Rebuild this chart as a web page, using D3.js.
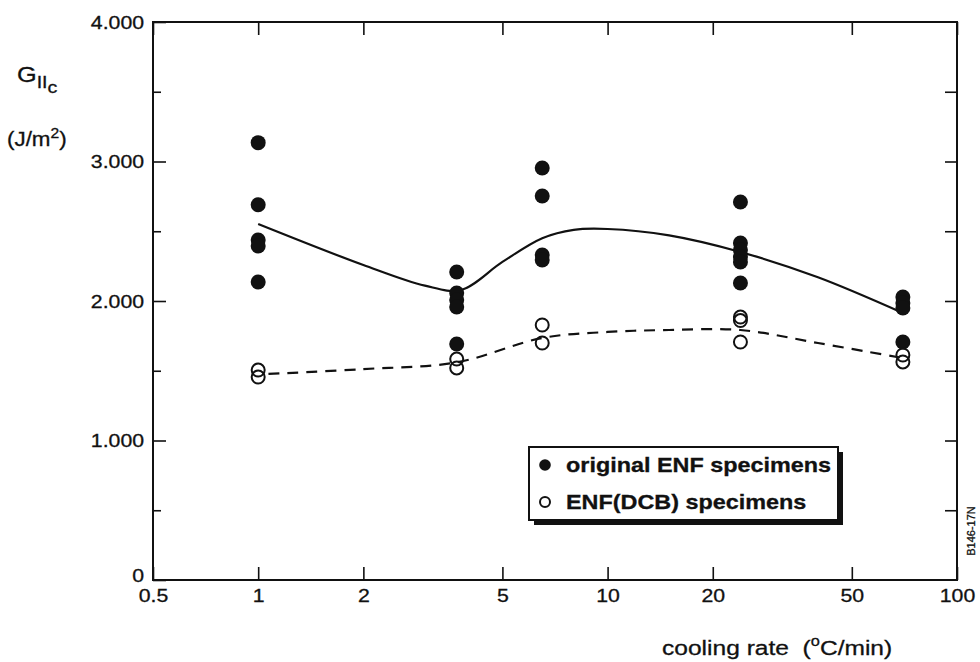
<!DOCTYPE html>
<html>
<head>
<meta charset="utf-8">
<script src="https://cdn.jsdelivr.net/npm/d3@7"></script>
<style>
  body { margin: 0; background: #fff; }
  text { font-family: "Liberation Sans", Arial, Helvetica, sans-serif; fill: #111; stroke: #111; stroke-width: 0.3px; }
</style>
</head>
<body>
<script>
// cooling rate (°C/min) vs GIIc (J/m^2)
var xTicks = [0.5, 1, 2, 5, 10, 20, 50, 100];
var yTicks = [0, 1000, 2000, 3000, 4000];
var yMinor = [500, 1500, 2500, 3500];
var yRightTicks = [500, 1000, 1500, 2000, 2500, 3000, 3500];

// filled circles: original ENF specimens
var originalENF = [
  [1, 3135], [1, 2690], [1, 2437], [1, 2394], [1, 2136],
  [3.7, 2208], [3.7, 2057], [3.7, 2007], [3.7, 1957], [3.7, 1692],
  [6.5, 2953], [6.5, 2753], [6.5, 2330], [6.5, 2294],
  [24, 2710], [24, 2416], [24, 2366], [24, 2315], [24, 2280], [24, 2129],
  [70, 2029], [70, 1986], [70, 1950], [70, 1706]
];
// open circles: ENF(DCB) specimens
var enfDCB = [
  [1, 1505], [1, 1455],
  [3.7, 1584], [3.7, 1520],
  [6.5, 1828], [6.5, 1699],
  [24, 1885], [24, 1860], [24, 1706],
  [70, 1613], [70, 1563]
];
// hand-drawn trend curves
var originalFit = [
  [1, 2552], [2, 2258], [3, 2110], [3.8, 2079], [5, 2280], [6.5, 2450],
  [8, 2510], [10, 2516], [15, 2470], [24, 2351], [40, 2170], [70, 1914]
];
var dcbFit = [
  [1.07, 1477], [2, 1512], [3.7, 1560], [6.5, 1735], [10, 1778],
  [15, 1792], [24, 1792], [40, 1699], [70, 1591]
];

var W = 980, H = 662;
var pLeft = 153, pRight = 957, pTop = 22, pBottom = 580;

var svg = d3.select("body").append("svg")
  .attr("width", W)
  .attr("height", H);

var x = d3.scaleLog().domain([0.5, 100]).range([pLeft, pRight]);
var y = d3.scaleLinear().domain([0, 4000]).range([pBottom, pTop]);

var fmt = d3.formatLocale({decimal: ",", thousands: ".", grouping: [3], currency: ["", ""]}).format(",");
var sx = 1.12;

// bottom axis with inward ticks
var gx = svg.append("g")
  .attr("transform", "translate(0," + pBottom + ")")
  .call(d3.axisBottom(x).tickValues(xTicks).tickFormat(function (d) { return d; })
    .tickSizeInner(-13).tickSizeOuter(0).tickPadding(9));
gx.selectAll("text").attr("font-size", 19).attr("transform", "scale(" + sx + ",1)");

// top axis, ticks only
svg.append("g")
  .attr("transform", "translate(0," + pTop + ")")
  .call(d3.axisTop(x).tickValues(xTicks).tickFormat("").tickSizeInner(-13).tickSizeOuter(0));

// left axis
var gy = svg.append("g")
  .attr("transform", "translate(" + pLeft + ",0)")
  .call(d3.axisLeft(y).tickValues(yTicks).tickFormat(fmt)
    .tickSizeInner(-13).tickSizeOuter(0).tickPadding(8));
gy.selectAll("text").attr("font-size", 19).attr("transform", "scale(" + sx + ",1)");
gy.selectAll("text").filter(function (d) { return d === 0; }).attr("dy", "0.1em");
svg.append("g")
  .attr("transform", "translate(" + pLeft + ",0)")
  .call(d3.axisLeft(y).tickValues(yMinor).tickFormat("").tickSizeInner(-8).tickSizeOuter(0));

// right axis, ticks only
svg.append("g")
  .attr("transform", "translate(" + pRight + ",0)")
  .call(d3.axisRight(y).tickValues(yRightTicks).tickFormat("").tickSizeInner(-12).tickSizeOuter(0));

svg.selectAll(".domain").remove();
svg.selectAll(".tick line").attr("stroke", "#111").attr("stroke-width", 1.6);

// frame
svg.append("rect")
  .attr("x", pLeft).attr("y", pTop)
  .attr("width", pRight - pLeft).attr("height", pBottom - pTop)
  .attr("fill", "none").attr("stroke", "#111").attr("stroke-width", 2);

// curves
var line = d3.line()
  .x(function (d) { return x(d[0]); })
  .y(function (d) { return y(d[1]); })
  .curve(d3.curveCatmullRom.alpha(0.5));

svg.append("path").datum(originalFit)
  .attr("d", line).attr("fill", "none")
  .attr("stroke", "#111").attr("stroke-width", 2.2);

svg.append("path").datum(dcbFit)
  .attr("d", line).attr("fill", "none")
  .attr("stroke", "#111").attr("stroke-width", 2.2)
  .attr("stroke-dasharray", "11,8");

// points
svg.append("g").selectAll("circle")
  .data(originalENF)
  .enter().append("circle")
  .attr("cx", function (d) { return x(d[0]); })
  .attr("cy", function (d) { return y(d[1]); })
  .attr("r", 7.5)
  .attr("fill", "#111");

svg.append("g").selectAll("circle")
  .data(enfDCB)
  .enter().append("circle")
  .attr("cx", function (d) { return x(d[0]); })
  .attr("cy", function (d) { return y(d[1]); })
  .attr("r", 6.5)
  .attr("fill", "none")
  .attr("stroke", "#111")
  .attr("stroke-width", 2);

// legend
var lg = svg.append("g").attr("transform", "translate(529,447)");
lg.append("rect").attr("x", 5).attr("y", 5).attr("width", 309).attr("height", 73).attr("fill", "#111");
lg.append("rect").attr("x", 0).attr("y", 0).attr("width", 309).attr("height", 73)
  .attr("fill", "#fff").attr("stroke", "#111").attr("stroke-width", 2);
lg.append("circle").attr("cx", 16).attr("cy", 18).attr("r", 5.8).attr("fill", "#111");
lg.append("circle").attr("cx", 16).attr("cy", 55).attr("r", 5).attr("fill", "none")
  .attr("stroke", "#111").attr("stroke-width", 2);
lg.append("text").attr("transform", "translate(37,25) scale(1.17,1)")
  .attr("font-size", 20).attr("font-weight", "bold").text("original ENF specimens");
lg.append("text").attr("transform", "translate(37,62) scale(1.17,1)")
  .attr("font-size", 20).attr("font-weight", "bold").text("ENF(DCB) specimens");

// y label: G_IIc
var yl = svg.append("text").attr("transform", "translate(17,82) scale(1.15,1)").attr("font-size", 22);
yl.append("tspan").text("G");
yl.append("tspan").attr("font-size", 17).attr("dy", 6).text("II");
yl.append("tspan").attr("font-size", 17).attr("dy", 5).text("c");

var yu = svg.append("text").attr("transform", "translate(7,146) scale(1.12,1)").attr("font-size", 20);
yu.append("tspan").text("(J/m");
yu.append("tspan").attr("font-size", 14).attr("dy", -8).text("2");
yu.append("tspan").attr("dy", 8).text(")");

// x label
var xl = svg.append("text").attr("transform", "translate(662,655) scale(1.17,1)").attr("font-size", 21);
xl.append("tspan").text("cooling rate\u00a0\u00a0(");
xl.append("tspan").attr("font-size", 14).attr("dy", -9).text("o");
xl.append("tspan").attr("dy", 9).text("C/min)");

// figure id
svg.append("text")
  .attr("transform", "translate(975,531) rotate(-90)")
  .attr("text-anchor", "middle")
  .attr("font-size", 11)
  .text("B146-17N");
</script>
</body>
</html>
